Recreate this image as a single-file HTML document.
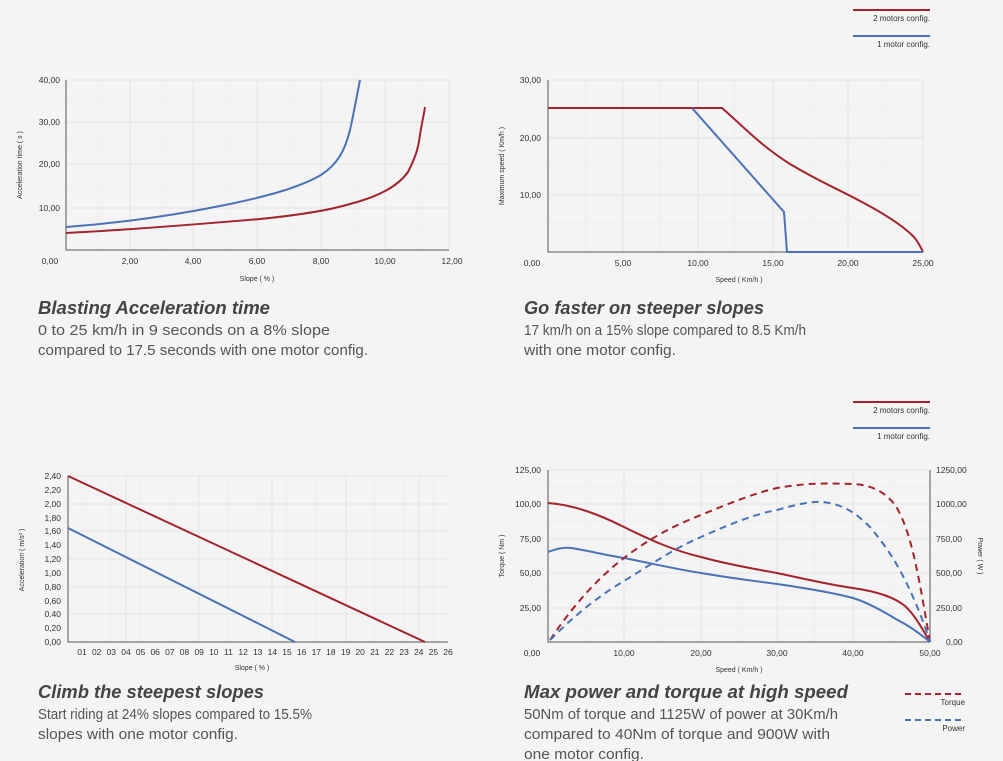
<!DOCTYPE html>
<html><head><meta charset="utf-8"><style>
html,body{margin:0;padding:0;background:#f4f4f4;}
svg{display:block;font-family:"Liberation Sans",sans-serif;}
.t{font-size:8.5px;fill:#333;}
.ax{font-size:7px;fill:#333;}
.h{font-size:18.5px;font-weight:bold;font-style:italic;fill:#444;}
.b{font-size:15px;fill:#555;}
.lg{font-size:8px;fill:#333;}
.g{stroke:#e4e4e4;stroke-width:1;}
.gm{stroke:#ececec;stroke-width:0.7;}
.axis{stroke:#8a8a8a;stroke-width:1.5;fill:none;}
.r{stroke:#a3232e;stroke-width:2;fill:none;}
.bl{stroke:#4a72b5;stroke-width:2;fill:none;}
</style></head><body>
<svg width="1003" height="761" viewBox="0 0 1003 761">
<rect width="1003" height="761" fill="#f4f4f4"/>

<!-- Chart 1 -->
<g>
<path class="gm" d="M98,80V250M162,80V250M226,80V250M290,80V250M354,80V250M418,80V250M66,101H449M66,144H449M66,186H449M66,229H449"/>
<path class="g" d="M130,80V250M193,80V250M257,80V250M321,80V250M385,80V250M449,80V250M66,80H449M66,122H449M66,164H449M66,208H449"/>
<path class="axis" d="M66,80V250H449"/>
<g class="t" text-anchor="end"><text x="60" y="83">40,00</text><text x="60" y="125">30,00</text><text x="60" y="167">20,00</text><text x="60" y="211">10,00</text></g>
<g class="t" text-anchor="middle"><text x="50" y="264">0,00</text><text x="130" y="264">2,00</text><text x="193" y="264">4,00</text><text x="257" y="264">6,00</text><text x="321" y="264">8,00</text><text x="385" y="264">10,00</text><text x="452" y="264">12,00</text></g>
<text class="ax" x="257" y="281" text-anchor="middle">Slope ( % )</text>
<text class="ax" transform="translate(22,165) rotate(-90)" text-anchor="middle">Acceleration time ( s )</text>
<path class="bl" d="M66,227 C120,223 170,216 220,206 C270,196 300,187 321,175 C338,164 345,150 350,130 C354,112 357,95 360,80"/>
<path class="r" d="M66,233 C130,230 200,224 260,219 C300,215 330,210 350,204 C380,196 398,186 408,172 C415,158 418,150 420,135 C422,122 424,114 425,107"/>
</g>

<!-- Chart 2 legend -->
<line x1="853" y1="10" x2="930" y2="10" stroke="#a3232e" stroke-width="2"/>
<text class="lg" x="930" y="21" text-anchor="end">2 motors config.</text>
<line x1="853" y1="36" x2="930" y2="36" stroke="#4a72b5" stroke-width="2"/>
<text class="lg" x="930" y="47" text-anchor="end">1 motor config.</text>

<!-- Chart 2 -->
<g>
<path class="gm" d="M585,80V252M660,80V252M735,80V252M810,80V252M885,80V252M548,109H923M548,137H923M548,166H923M548,223H923"/>
<path class="g" d="M623,80V252M698,80V252M773,80V252M848,80V252M923,80V252M548,80H923M548,138H923M548,195H923"/>
<path class="axis" d="M548,80V252H923"/>
<g class="t" text-anchor="end"><text x="541" y="83">30,00</text><text x="541" y="141">20,00</text><text x="541" y="198">10,00</text></g>
<g class="t" text-anchor="middle"><text x="532" y="266">0,00</text><text x="623" y="266">5,00</text><text x="698" y="266">10,00</text><text x="773" y="266">15,00</text><text x="848" y="266">20,00</text><text x="923" y="266">25,00</text></g>
<text class="ax" x="739" y="282" text-anchor="middle">Speed ( Km/h )</text>
<text class="ax" transform="translate(504,166) rotate(-90)" text-anchor="middle">Maximum speed ( Km/h )</text>
<path class="r" d="M548,108H722 C745,128 760,145 790,164 C820,182 840,190 860,201 C885,214 902,225 914,237 C919,243 921,248 923,252"/>
<path class="bl" d="M692,108L784,212L787,252H923"/>
</g>

<!-- Chart 3 -->
<g>
<path class="gm" d="M82,476V642M111,476V642M140,476V642M170,476V642M199,476V642M228,476V642M258,476V642M287,476V642M316,476V642M346,476V642M375,476V642M404,476V642M433,476V642"/>
<path class="g" d="M68,476H448M68,504H448M68,531H448M68,559H448M68,587H448M68,614H448M126,476V642M199,476V642M272,476V642M346,476V642M419,476V642"/>
<path class="axis" d="M68,476V642H448"/>
<g class="t" text-anchor="end" font-size="7.5">
<text x="61" y="479">2,40</text><text x="61" y="493">2,20</text><text x="61" y="507">2,00</text><text x="61" y="521">1,80</text><text x="61" y="534">1,60</text><text x="61" y="548">1,40</text><text x="61" y="562">1,20</text><text x="61" y="576">1,00</text><text x="61" y="590">0,80</text><text x="61" y="604">0,60</text><text x="61" y="617">0.40</text><text x="61" y="631">0,20</text><text x="61" y="645">0,00</text></g>
<g class="t" text-anchor="middle" font-size="9">
<text x="82" y="655">01</text><text x="96.7" y="655">02</text><text x="111.3" y="655">03</text><text x="126" y="655">04</text><text x="140.6" y="655">05</text><text x="155.2" y="655">06</text><text x="169.9" y="655">07</text><text x="184.5" y="655">08</text><text x="199.2" y="655">09</text><text x="213.8" y="655">10</text><text x="228.4" y="655">11</text><text x="243.1" y="655">12</text><text x="257.7" y="655">13</text><text x="272.4" y="655">14</text><text x="287" y="655">15</text><text x="301.6" y="655">16</text><text x="316.3" y="655">17</text><text x="330.9" y="655">18</text><text x="345.6" y="655">19</text><text x="360.2" y="655">20</text><text x="374.8" y="655">21</text><text x="389.5" y="655">22</text><text x="404.1" y="655">23</text><text x="418.8" y="655">24</text><text x="433.4" y="655">25</text><text x="448" y="655">26</text></g>
<text class="ax" x="252" y="670" text-anchor="middle">Slope ( % )</text>
<text class="ax" transform="translate(24,560) rotate(-90)" text-anchor="middle">Acceleration ( m/s² )</text>
<path class="r" d="M68,476L425,642"/>
<path class="bl" d="M68,528L295,642"/>
</g>

<!-- Chart 4 legend -->
<line x1="853" y1="402" x2="930" y2="402" stroke="#a3232e" stroke-width="2"/>
<text class="lg" x="930" y="413" text-anchor="end">2 motors config.</text>
<line x1="853" y1="428" x2="930" y2="428" stroke="#4a72b5" stroke-width="2"/>
<text class="lg" x="930" y="439" text-anchor="end">1 motor config.</text>

<!-- Chart 4 -->
<g>
<path class="gm" d="M586,470V642M662,470V642M739,470V642M815,470V642M891,470V642M548,487H930M548,521H930M548,556H930M548,590H930M548,625H930"/>
<path class="g" d="M624,470V642M701,470V642M777,470V642M853,470V642M548,470H930M548,504H930M548,539H930M548,573H930M548,608H930"/>
<path class="axis" d="M548,470V642H930M930,470V642"/>
<g class="t" text-anchor="end"><text x="541" y="473">125,00</text><text x="541" y="507">100,00</text><text x="541" y="542">75,00</text><text x="541" y="576">50,00</text><text x="541" y="611">25,00</text></g>
<g class="t" text-anchor="start"><text x="936" y="473">1250,00</text><text x="936" y="507">1000,00</text><text x="936" y="542">750,00</text><text x="936" y="576">500,00</text><text x="936" y="611">250,00</text><text x="946" y="645">0,00</text></g>
<g class="t" text-anchor="middle"><text x="532" y="656">0,00</text><text x="624" y="656">10,00</text><text x="701" y="656">20,00</text><text x="777" y="656">30,00</text><text x="853" y="656">40,00</text><text x="930" y="656">50,00</text></g>
<text class="ax" x="739" y="672" text-anchor="middle">Speed ( Km/h )</text>
<text class="ax" transform="translate(504,556) rotate(-90)" text-anchor="middle">Torque ( Nm )</text>
<text class="ax" transform="translate(978,556) rotate(90)" text-anchor="middle">Power ( W )</text>
<path class="r" d="M548,503 C575,505 600,515 624,527 C650,540 675,551 701,557 C730,565 755,569 777,573 C805,579 830,585 853,588 C880,592 895,598 905,606 C915,615 923,630 930,642"/>
<path class="bl" d="M548,552 C556,549 563,547 571,548 C590,551 605,555 624,558 C650,563 675,569 701,573 C730,578 755,581 777,584 C805,588 830,592 853,598 C875,605 893,618 905,624 C915,630 924,637 930,642"/>
<path class="r" stroke-dasharray="7,5" d="M550,640 C570,610 595,580 624,558 C650,538 675,525 701,515 C730,503 755,493 777,488 C805,483 830,483 853,484 C872,485 885,492 895,505 C905,520 912,545 918,575 C923,600 927,625 930,642"/>
<path class="bl" stroke-dasharray="7,5" d="M550,640 C570,620 595,598 624,581 C650,565 675,548 701,537 C730,524 755,514 777,510 C795,505 810,501 823,502 C840,504 853,510 870,527 C885,545 895,560 905,580 C915,600 923,620 930,642"/>
</g>
<line x1="905" y1="694" x2="965" y2="694" stroke="#a3232e" stroke-width="2" stroke-dasharray="6,4"/>
<text class="lg" x="965" y="705" text-anchor="end">Torque</text>
<line x1="905" y1="720" x2="965" y2="720" stroke="#4a72b5" stroke-width="2" stroke-dasharray="6,4"/>
<text class="lg" x="965" y="731" text-anchor="end">Power</text>

<!-- Texts -->
<text class="h" x="38" y="314" textLength="232" lengthAdjust="spacingAndGlyphs">Blasting Acceleration time</text>
<text class="b" x="38" y="335" textLength="292" lengthAdjust="spacingAndGlyphs">0 to 25 km/h in 9 seconds on a 8% slope</text>
<text class="b" x="38" y="355" textLength="330" lengthAdjust="spacingAndGlyphs">compared to 17.5 seconds with one motor config.</text>

<text class="h" x="524" y="314" textLength="240" lengthAdjust="spacingAndGlyphs">Go faster on steeper slopes</text>
<text class="b" x="524" y="335" textLength="282" lengthAdjust="spacingAndGlyphs">17 km/h on a 15% slope compared to 8.5 Km/h</text>
<text class="b" x="524" y="355" textLength="152" lengthAdjust="spacingAndGlyphs">with one motor config.</text>

<text class="h" x="38" y="698" textLength="226" lengthAdjust="spacingAndGlyphs">Climb the steepest slopes</text>
<text class="b" x="38" y="719" textLength="274" lengthAdjust="spacingAndGlyphs">Start riding at 24% slopes compared to 15.5%</text>
<text class="b" x="38" y="739" textLength="200" lengthAdjust="spacingAndGlyphs">slopes with one motor config.</text>

<text class="h" x="524" y="698" textLength="324" lengthAdjust="spacingAndGlyphs">Max power and torque at high speed</text>
<text class="b" x="524" y="719" textLength="314" lengthAdjust="spacingAndGlyphs">50Nm of torque and 1125W of power at 30Km/h</text>
<text class="b" x="524" y="739" textLength="306" lengthAdjust="spacingAndGlyphs">compared to 40Nm of torque and 900W with</text>
<text class="b" x="524" y="759" textLength="120" lengthAdjust="spacingAndGlyphs">one motor config.</text>
</svg>
</body></html>
